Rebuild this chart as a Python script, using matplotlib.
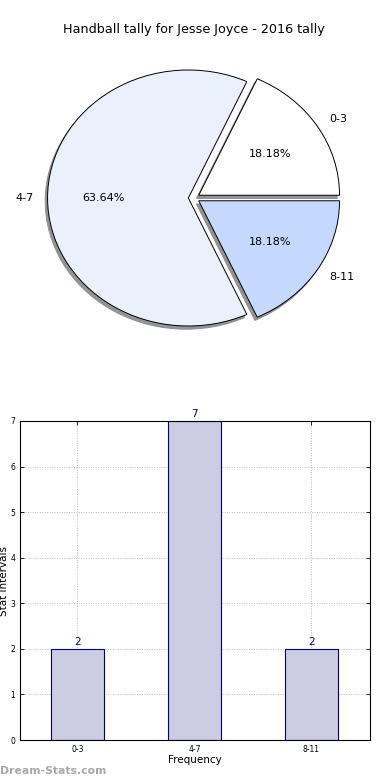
import matplotlib
matplotlib.use("Agg")
import matplotlib.pyplot as plt

categories = ["0-3", "4-7", "8-11"]
counts = [2, 7, 2]
pie_colors = ["#FFFFFF", "#EAF1FD", "#C5D9FF"]
title = "Handball tally for Jesse Joyce - 2016 tally"

W, H = 390, 780
fig = plt.figure(figsize=(3.9, 7.8), dpi=100)

def ax_px(left, top, right, bottom):
    return fig.add_axes([left / W, 1 - bottom / H, (right - left) / W, (bottom - top) / H])

# Pie
pax = ax_px(18, 38, 370, 358)
wedges, texts, autotexts = pax.pie(
    counts, labels=categories, colors=pie_colors, autopct="%.2f%%",
    explode=[0.04, 0.04, 0.04],
    shadow=dict(ox=-0.012, oy=-0.018, color="#888888", alpha=0.9),
    startangle=0,
    wedgeprops=dict(edgecolor="black", linewidth=0.7),
    textprops=dict(fontsize=8))
pax.set_aspect("auto")
pax.set_xlim(-1.25, 1.25)
pax.set_ylim(-1.25, 1.25)
pax.axis("off")
fig.text(194 / W, 1 - 30 / H, title, ha="center", va="center", fontsize=9.2)

# Bar
bax = ax_px(20, 421, 370, 740)
x = list(range(len(categories)))
bars = bax.bar(x, counts, width=0.45, color="#CCCCE5", edgecolor="#000080", linewidth=0.8, zorder=2)
for xi, v in zip(x, counts):
    bax.text(xi, v + 0.05, str(v), ha="center", va="bottom", color="#000080", fontsize=7.5)
bax.set_xlim(-0.49, 2.5)
bax.set_ylim(0, 7)
bax.set_xticks(x)
bax.set_xticklabels(categories, fontsize=5.5)
bax.set_yticks(range(0, 8))
bax.tick_params(axis="y", labelsize=5.5)
bax.tick_params(direction="in", top=True, right=True, length=3, width=0.6)
bax.grid(True, linestyle=(0, (1, 1.5)), color="#BBBBBB", linewidth=0.7, zorder=0)
bax.set_axisbelow(True)
bax.set_xlabel("Frequency", fontsize=7.5, labelpad=1)
bax.set_ylabel("Stat Intervals", fontsize=7.5, labelpad=1)
for s in bax.spines.values():
    s.set_linewidth(0.8)

fig.text(0 / W, 1 - 771 / H, "Dream-Stats.com", ha="left", va="center",
         fontsize=7.8, color="#A8A8A8", fontweight="bold")

fig.savefig("out.png", dpi=100)
